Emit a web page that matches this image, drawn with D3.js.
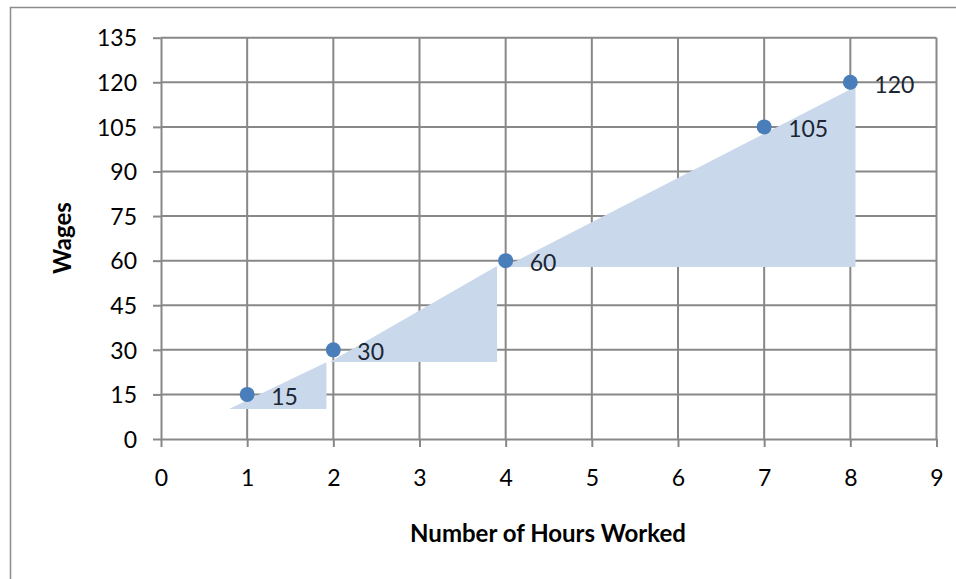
<!DOCTYPE html>
<html>
<head>
<meta charset="utf-8">
<script src="https://cdn.jsdelivr.net/npm/d3@7"></script>
<style>
  html, body { margin: 0; padding: 0; background: #fff; }
  svg { display: block; font-family: Lato, "Open Sans", sans-serif; }
</style>
</head>
<body>
<div id="chart"></div>
<script>
// hours worked vs wages
const hours = [1, 2, 4, 7, 8];
const wages = [15, 30, 60, 105, 120];

const xTicks = [0, 1, 2, 3, 4, 5, 6, 7, 8, 9];
const yTicks = [0, 15, 30, 45, 60, 75, 90, 105, 120, 135];

// shaded slope triangles, in data units [hours, wages]
const triangleA = [[0.79, 10.1], [1.92, 25.8], [1.92, 10.1]];
const triangleB = [[1.96, 25.9], [3.9, 58.2], [3.9, 25.9]];
const triangleC = [[3.99, 57.9], [8.06, 118.5], [8.06, 57.9]];
const triangles = [triangleA, triangleB, triangleC];

const width = 956, height = 579;
const margin = { top: 37.7, right: 19.5, bottom: 140, left: 161 };

const svg = d3.select('#chart').append('svg')
  .attr('width', width)
  .attr('height', height);

// outer chart frame
svg.append('rect')
  .attr('x', 10.5).attr('y', 7.5)
  .attr('width', width + 20).attr('height', height + 20)
  .attr('fill', 'none')
  .attr('stroke', '#8c8c8c')
  .attr('stroke-width', 1.5);

const x = d3.scaleLinear().domain([0, 9]).range([margin.left, width - margin.right]);
const y = d3.scaleLinear().domain([0, 135]).range([height - margin.bottom, margin.top]);

const gridColor = '#888';

// gridlines
svg.append('g').selectAll('line')
  .data(yTicks.slice(1))
  .join('line')
  .attr('x1', x(0)).attr('x2', x(9))
  .attr('y1', d => y(d)).attr('y2', d => y(d))
  .attr('stroke', gridColor).attr('stroke-width', 2);

svg.append('g').selectAll('line')
  .data(xTicks.slice(1))
  .join('line')
  .attr('x1', d => x(d)).attr('x2', d => x(d))
  .attr('y1', y(0)).attr('y2', y(135))
  .attr('stroke', gridColor).attr('stroke-width', 2);

// triangles
const pathGen = d3.line().x(d => x(d[0])).y(d => y(d[1]));
svg.append('g').selectAll('path')
  .data(triangles)
  .join('path')
  .attr('d', d => pathGen(d) + 'Z')
  .attr('fill', '#c9d8eb');

// axes
const xAxis = svg.append('g')
  .attr('transform', `translate(0,${y(0)})`)
  .call(d3.axisBottom(x).tickValues(xTicks).tickSize(8).tickPadding(23).tickSizeOuter(0));
const yAxis = svg.append('g')
  .attr('transform', `translate(${x(0)},0)`)
  .call(d3.axisLeft(y).tickValues(yTicks).tickSize(8).tickPadding(16).tickSizeOuter(0));

[xAxis, yAxis].forEach(ax => {
  ax.select('.domain').attr('stroke', gridColor).attr('stroke-width', 2);
  ax.selectAll('.tick line').attr('stroke', gridColor).attr('stroke-width', 2);
  ax.selectAll('.tick text')
    .attr('fill', '#000')
    .style('font-size', '23px')
    .style('font-family', 'Lato, sans-serif');
});
yAxis.selectAll('.tick text').attr('dy', '0.36em');

// points
const points = hours.map((h, i) => ({ h, w: wages[i] }));
svg.append('g').selectAll('circle')
  .data(points)
  .join('circle')
  .attr('cx', d => x(d.h))
  .attr('cy', d => y(d.w))
  .attr('r', 7.5)
  .attr('fill', '#4a7ebb');

svg.append('g').selectAll('text')
  .data(points)
  .join('text')
  .attr('x', d => x(d.h) + 24)
  .attr('y', d => y(d.w) + 2)
  .attr('dy', '0.36em')
  .attr('fill', '#1c2633')
  .style('font-size', '23px')
  .text(d => d.w);

// axis titles
svg.append('text')
  .attr('x', 548).attr('y', 533)
  .attr('dy', '0.36em')
  .attr('text-anchor', 'middle')
  .style('font-size', '24px')
  .style('font-weight', 'bold')
  .text('Number of Hours Worked');

svg.append('text')
  .attr('transform', 'translate(62,238) rotate(-90)')
  .attr('dy', '0.36em')
  .attr('text-anchor', 'middle')
  .style('font-size', '24px')
  .style('font-weight', 'bold')
  .text('Wages');
</script>
</body>
</html>
